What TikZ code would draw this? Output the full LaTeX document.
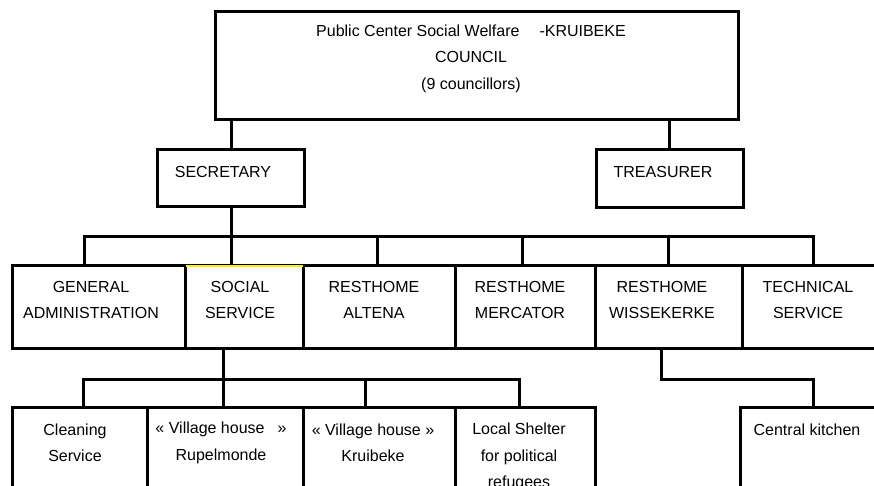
\documentclass[tikz,border=0pt]{standalone}
\usepackage{fontspec}
\setmainfont{Liberation Sans}
\begin{document}
\begin{tikzpicture}[x=1pt,y=-1pt,
  box/.style={draw=black,line width=3pt,inner sep=0pt,rectangle},
  txt/.style={inner sep=0pt,align=center,font=\fontsize{16}{26.5}\selectfont},
  conn/.style={draw=black,line width=3pt,line cap=rect}]
\useasboundingbox (0,0) rectangle (874,486);
\clip (0,0) rectangle (874,486);
% top level
\node[box,minimum width=523pt,minimum height=108pt] (council) at (476.5,66) {};
\node[txt] (councilt) at (471,58.5) {Public Center Social Welfare\hspace{20pt}-KRUIBEKE\\COUNCIL\\(9 councillors)};
\node[box,minimum width=147pt,minimum height=57pt] (sec) at (230.5,178.5) {};
\node[txt] (sect) at (223,172) {SECRETARY};
\node[box,minimum width=147pt,minimum height=58pt] (tre) at (669.5,179) {};
\node[txt] (tret) at (663,172) {TREASURER};
% row 2
\node[box,minimum width=173pt,minimum height=83pt] (ga) at (98.5,306.5) {};
\node[box,minimum width=118pt,minimum height=83pt] (ss) at (244,306.5) {};
\node[box,minimum width=152pt,minimum height=83pt] (ra) at (379,306.5) {};
\node[box,minimum width=140pt,minimum height=83pt] (rm) at (525,306.5) {};
\node[box,minimum width=147pt,minimum height=83pt] (rw) at (668.5,306.5) {};
\node[box,minimum width=160pt,minimum height=83pt] (ts) at (822,306.5) {};
\draw[yellow,line width=1.6pt] ([xshift=2pt,yshift=-2.4pt]ss.north west) -- ([xshift=-2pt,yshift=-2.4pt]ss.north east);
\node[txt] (gat) at (91,300) {GENERAL\\ADMINISTRATION};
\node[txt] (sst) at (240,300) {SOCIAL\\SERVICE};
\node[txt] (rat) at (374,300) {RESTHOME\\ALTENA};
\node[txt] (rmt) at (520,300) {RESTHOME\\MERCATOR};
\node[txt] (rwt) at (662,300) {RESTHOME\\WISSEKERKE};
\node[txt] (tst) at (808,300) {TECHNICAL\\SERVICE};
% row 3
\node[box,minimum width=135pt,minimum height=113pt] (cs) at (79.5,463.5) {};
\node[box,minimum width=156pt,minimum height=113pt] (vr) at (225,463.5) {};
\node[box,minimum width=152pt,minimum height=113pt] (vk) at (379,463.5) {};
\node[box,minimum width=140pt,minimum height=113pt] (ls) at (525,463.5) {};
\node[box,minimum width=160pt,minimum height=113pt] (ck) at (820,463.5) {};
\node[txt] (cst) at (75,443) {Cleaning\\Service};
\node[txt] (vrt) at (221,443) {«\ Village house\hspace{13pt}»\\Rupelmonde};
\node[txt] (vkt) at (373,443) {« Village house »\\Kruibeke};
\node[txt] (lst) at (519,457) {Local Shelter\\for political\\refugees};
\node[txt] (ckt) at (807,430) {Central kitchen};
% connector coordinates
\coordinate (a1) at (231,120);
\coordinate (a2) at (669,120);
\coordinate (b1) at (84,236);
\coordinate (b2) at (231,236);
\coordinate (b3) at (377,236);
\coordinate (b4) at (522,236);
\coordinate (b5) at (668,236);
\coordinate (b6) at (813,236);
\coordinate (c1) at (83,379);
\coordinate (c2) at (223,379);
\coordinate (c3) at (365,379);
\coordinate (c4) at (519,379);
\coordinate (w1) at (661,379);
\coordinate (w2) at (813,379);
% connectors
\draw[conn] (council.south -| a1) -- (sec.north -| a1);
\draw[conn] (council.south -| a2) -- (tre.north -| a2);
\draw[conn] (sec.south -| b2) -- (ss.north -| b2);
\draw[conn] (b1) -- (b6);
\foreach \d/\n in {b1/ga,b3/ra,b4/rm,b5/rw,b6/ts}
  \draw[conn] (\d) -- (\d |- \n.north);
\draw[conn] (ss.south -| c2) -- (c2);
\draw[conn] (c1) -- (c4);
\foreach \d/\n in {c1/cs,c2/vr,c3/vk,c4/ls}
  \draw[conn] (\d) -- (\d |- \n.north);
\draw[conn] (rw.south -| w1) -- (w1) -- (w2) -- (w2 |- ck.north);
\end{tikzpicture}
\end{document}
